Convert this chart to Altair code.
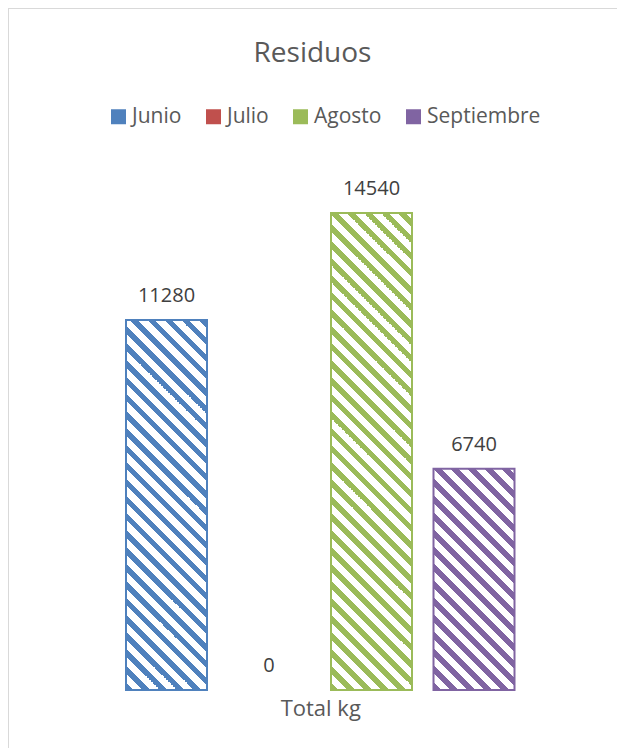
import altair as alt
import pandas as pd

months = ["Junio", "Julio", "Agosto", "Septiembre"]
kg = [11280, 0, 14540, 6740]
colors = ["#4F81BD", "#C0504D", "#9BBB59", "#8064A2"]

df = pd.DataFrame({"month": months, "kg": kg})

FONT = "Open Sans"
TEXT = "#595959"

# geometry (view = whole frame, fits the 625x756 page with its 8px margin)
W, H = 609, 740
BASE = 682          # baseline, px from top of view
TOP16K = 157        # px from top for 16000
ppu = (BASE - TOP16K) / 16000.0
ydom = [-(H - BASE) / ppu, BASE / ppu]
BAR_W = 81
PERIOD = 17.0
FRAC = 0.45


def stripes(color, w, h):
    r = h / w
    k = (1 + r) / (1 + r * r)
    n = (w + h) / PERIOD
    stops = []
    j = 0
    while j < n:
        a = j / n
        b = min((j + FRAC) / n, 1.0)
        c = min((j + 1) / n, 1.0)
        stops += [
            {"offset": a, "color": color},
            {"offset": b, "color": color},
            {"offset": b, "color": "#ffffff"},
            {"offset": c, "color": "#ffffff"},
        ]
        j += 1
    return {"gradient": "linear", "x1": 0, "y1": 1, "x2": k, "y2": 1 - k * r, "stops": stops}


xenc = alt.X(
    "month:N",
    sort=months,
    scale=alt.Scale(domain=months, range=[107.25, 517.25], paddingInner=0, paddingOuter=0),
    axis=alt.Axis(
        title="Total kg", labels=False, ticks=False, domain=False, grid=False,
        offset=-(H - BASE), titlePadding=8, titleFont=FONT, titleFontSize=22,
        titleColor=TEXT, titleFontWeight="normal",
    ),
)
yscale = alt.Scale(domain=ydom, nice=False, zero=False)

base = alt.Chart(df)

# frame (left and top edges of the chart area)
frame_left = base.mark_rule(color="#d9d9d9", strokeWidth=1.5).encode(
    x=alt.value(0), y=alt.value(0), y2=alt.value(H)
)
frame_top = base.mark_rule(color="#d9d9d9", strokeWidth=1.5).encode(
    x=alt.value(0), x2=alt.value(W), y=alt.value(0)
)

legend_layer = base.mark_bar(strokeWidth=0).encode(
    x=xenc,
    y=alt.Y(datum=0, scale=yscale, axis=None),
    y2=alt.Y2(datum=0),
    color=alt.Color(
        "month:N",
        scale=alt.Scale(domain=months, range=colors),
        legend=alt.Legend(
            title=None, orient="none", direction="horizontal", legendX=100, legendY=98,
            symbolType="square", symbolSize=225, symbolStrokeWidth=0,
            labelFont=FONT, labelFontSize=21, labelColor=TEXT, labelOffset=3,
            columnPadding=21, columns=4,
        ),
    ),
)

layers = [frame_left, frame_top, legend_layer]
for m, v, c in zip(months, kg, colors):
    if v <= 0:
        continue
    h = v * ppu
    layers.append(
        base.transform_filter(alt.FieldEqualPredicate(field="month", equal=m))
        .mark_bar(width=BAR_W, stroke=c, strokeWidth=2, fill=stripes(c, BAR_W, h))
        .encode(
            x=xenc,
            y=alt.Y("kg:Q", scale=yscale, axis=None),
            y2=alt.Y2(datum=0),
        )
    )

labels = base.mark_text(
    baseline="alphabetic", dy=-18, font=FONT, fontSize=20, color="#404040"
).encode(
    x=xenc,
    y=alt.Y("kg:Q", scale=yscale, axis=None),
    text=alt.Text("kg:Q", format="d"),
)
layers.append(labels)

chart = alt.layer(*layers).properties(
    width=W,
    height=H,
    padding=0,
    autosize=alt.AutoSizeParams(type="none"),
    title=alt.TitleParams(
        text="Residuos", anchor="middle", frame="group", offset=-83, baseline="alphabetic",
        font=FONT, fontSize=28, color=TEXT, fontWeight="normal",
    ),
).configure_view(stroke=None).configure(background="white")

chart.save("out.html", embed_options={"renderer": "svg", "actions": False})
